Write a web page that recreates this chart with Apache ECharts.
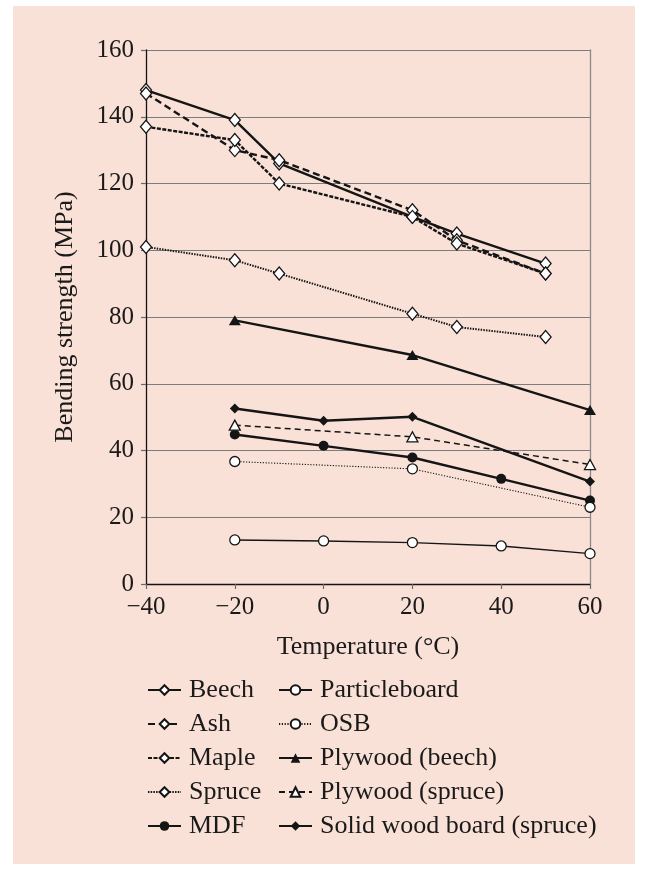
<!DOCTYPE html>
<html>
<head>
<meta charset="utf-8">
<script src="https://cdn.jsdelivr.net/npm/echarts@6/dist/echarts.min.js"></script>
<style>
  html, body { margin: 0; padding: 0; background: #ffffff; }
  #panel { position: absolute; left: 13px; top: 6px; width: 622px; height: 858px; background: #f9e1d7; }
  #chart { position: absolute; left: 0; top: 0; width: 648px; height: 870px; }
</style>
</head>
<body>
<div id="panel"></div>
<div id="chart"></div>
<script>
// Bending strength of wood and wood-based panels versus temperature
const woodTemps = [-40, -20, -10, 20, 30, 50];
const beech  = [148, 139, 126, 110, 105, 96];
const ash    = [147, 130, 127, 112, 103, 93];
const maple  = [137, 133, 120, 110, 102, 93];
const spruce = [101, 97, 93, 81, 77, 74];

const panelTemps = [-20, 0, 20, 40, 60];
const mdf           = [44.8, 41.4, 37.9, 31.5, 25.0];
const particleboard = [13.2, 12.9, 12.4, 11.4, 9.1];

const threeTemps = [-20, 20, 60];
const osb            = [36.7, 34.5, 23.0];
const plywoodBeech   = [79.0, 68.6, 52.1];
const plywoodSpruce  = [47.6, 44.1, 35.8];

const solidTemps = [-20, 0, 20, 60];
const solidWood  = [52.6, 48.9, 50.1, 30.7];

const xTicks = [-40, -20, 0, 20, 40, 60];
const yTicks = [0, 20, 40, 60, 80, 100, 120, 140, 160];

const leftLegend  = ['Beech', 'Ash', 'Maple', 'Spruce', 'MDF'];
const rightLegend = ['Particleboard', 'OSB', 'Plywood (beech)', 'Plywood (spruce)', 'Solid wood board (spruce)'];

const INK = '#151515';
const TEXT = '#1a1a1a';
const FONT = 'Liberation Serif';

function pairs(xs, ys) { return xs.map((x, i) => [x, ys[i]]); }

function makeSeries(name, xs, ys, opts) {
  return {
    name: name,
    type: 'line',
    data: pairs(xs, ys),
    symbol: opts.symbol,
    symbolSize: opts.size,
    showSymbol: true,
    z: opts.z || 3,
    lineStyle: { color: INK, width: opts.width, type: opts.dash || 'solid' },
    itemStyle: {
      color: opts.filled ? INK : '#ffffff',
      borderColor: INK,
      borderWidth: opts.filled ? 0 : 1.3
    },
    emphasis: { disabled: true },
    animation: false
  };
}

const series = [
  makeSeries('Beech', woodTemps, beech, { symbol: 'diamond', size: [11, 13], width: 2.4 }),
  makeSeries('Ash', woodTemps, ash, { symbol: 'diamond', size: [11, 13], width: 2.4, dash: [7, 4] }),
  makeSeries('Maple', woodTemps, maple, { symbol: 'diamond', size: [11, 13], width: 2.4, dash: [4, 1.5] }),
  makeSeries('Spruce', woodTemps, spruce, { symbol: 'diamond', size: [11, 13], width: 2, dash: [1.5, 1.2] }),
  makeSeries('MDF', panelTemps, mdf, { symbol: 'circle', size: 10, width: 2.4, filled: true }),
  makeSeries('Particleboard', panelTemps, particleboard, { symbol: 'circle', size: 10, width: 1.4 }),
  makeSeries('OSB', threeTemps, osb, { symbol: 'circle', size: 10, width: 1.1, dash: [1.2, 1.6] }),
  makeSeries('Plywood (beech)', threeTemps, plywoodBeech, { symbol: 'triangle', size: [12, 10], width: 2.4, filled: true }),
  makeSeries('Plywood (spruce)', threeTemps, plywoodSpruce, { symbol: 'triangle', size: [11, 10], width: 1.5, dash: [6, 4] }),
  makeSeries('Solid wood board (spruce)', solidTemps, solidWood, { symbol: 'diamond', size: [10, 10], width: 2.4, filled: true })
];

const legendBase = {
  orient: 'vertical',
  top: 677,
  padding: 0,
  itemWidth: 33,
  itemHeight: 12,
  itemGap: 8,
  selectedMode: false,
  textStyle: { fontFamily: FONT, fontSize: 26, color: TEXT, padding: [0, 0, 0, 3] }
};

const chart = echarts.init(document.getElementById('chart'), null, { renderer: 'canvas' });
chart.setOption({
  backgroundColor: 'transparent',
  animation: false,
  textStyle: { fontFamily: FONT },
  grid: { left: 146, right: 58, top: 50, bottom: 286, containLabel: false },
  legend: [
    Object.assign({}, legendBase, { left: 147, data: leftLegend }),
    Object.assign({}, legendBase, { left: 278, data: rightLegend })
  ],
  xAxis: {
    type: 'value',
    min: xTicks[0],
    max: xTicks[xTicks.length - 1],
    interval: 20,
    name: 'Temperature (°C)',
    nameLocation: 'middle',
    nameGap: 50,
    nameTextStyle: { fontFamily: FONT, fontSize: 26, color: TEXT },
    axisLine: { onZero: false, lineStyle: { color: INK, width: 1.3 } },
    axisTick: { show: true, length: 5, lineStyle: { color: '#6a6a6a', width: 1.2 } },
    axisLabel: {
      fontFamily: FONT, fontSize: 25, color: TEXT, margin: 11,
      formatter: v => (v < 0 ? '\u2212' + Math.abs(v) : String(v))
    },
    splitLine: { show: false }
  },
  yAxis: [
    {
      type: 'value',
      min: yTicks[0],
      max: yTicks[yTicks.length - 1],
      interval: 20,
      name: 'Bending strength (MPa)',
      nameLocation: 'middle',
      nameGap: 68,
      nameTextStyle: { fontFamily: FONT, fontSize: 26, color: TEXT },
      axisLine: { show: true, onZero: false, lineStyle: { color: INK, width: 1.3 } },
      axisTick: { show: true, length: 5, lineStyle: { color: '#6a6a6a', width: 1.2 } },
      axisLabel: { fontFamily: FONT, fontSize: 25, color: TEXT, margin: 12 },
      splitLine: { show: true, lineStyle: { color: '#7c7c7c', width: 1.2 } }
    },
    {
      type: 'value',
      position: 'right',
      min: yTicks[0],
      max: yTicks[yTicks.length - 1],
      interval: 20,
      axisLine: { show: true, onZero: false, lineStyle: { color: '#8a8a8a', width: 1.3 } },
      axisTick: { show: false },
      axisLabel: { show: false },
      splitLine: { show: false }
    }
  ],
  series: series
});
</script>
</body>
</html>
